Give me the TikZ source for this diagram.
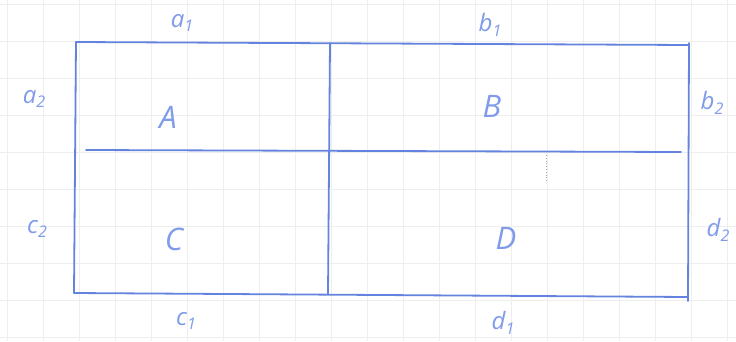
\documentclass[tikz,border=0pt]{standalone}
\usepackage{fontspec}
\setmainfont{Open Sans}
\definecolor{ink}{HTML}{6483DE}
\definecolor{inktext}{HTML}{7F9BEA}
\definecolor{gridc}{HTML}{EEEEEE}
\newcommand{\lab}[2]{#1\raisebox{-0.35ex}{\fontsize{16}{17}\selectfont #2}}
\tikzset{
  pen/.style={draw=ink, line width=1.8pt, line cap=round},
  lbl/.style={text=inktext, font=\fontsize{24}{26}\selectfont\itshape, inner sep=0pt},
  big/.style={text=inktext, font=\fontsize{31}{33}\selectfont\itshape, inner sep=0pt},
}
\begin{document}
\begin{tikzpicture}[x=1pt,y=-1pt]
\useasboundingbox (0,0) rectangle (736,341);
\fill[white] (0,0) rectangle (736,341);
% faint grid
\foreach \gx in {7,43,79,115,151,187,223,259,295,331,367,403,439,475,511,547,583,619,655,691,727}
  \draw[gridc, line width=0.8pt] (\gx,0) -- (\gx,341);
\foreach \gy in {4,41,78,115,152,189,226,263,300,337}
  \draw[gridc, line width=0.8pt] (0,\gy) -- (736,\gy);
% corners
\coordinate (tl) at (76,42);
\coordinate (tm) at (330,43);
\coordinate (tr) at (689,45);
\coordinate (bl) at (74,293);
\coordinate (bm) at (328,294);
\coordinate (br) at (688,297);
\coordinate (brr) at (688,301);
\coordinate (trr) at (689,43);
\coordinate (ml) at (86,150);
\coordinate (mr) at (681,152);
% outer rectangle
\draw[pen] (tl) -- (tr);
\draw[pen] (tl) -- (bl);
\draw[pen] (bl) -- (br);
\draw[pen] (trr) -- (brr);
% dividers
\draw[pen] (tm) -- (bm);
\draw[pen] (ml) -- (mr);
% small dotted mark
\coordinate (dt) at (546,155);
\coordinate (db) at (546,183);
\draw[gray!70, line width=0.8pt, dotted] (dt) -- (db);
% labels
\node[lbl] (a1) at (182,23) {\lab{a}{1}};
\node[lbl] (b1) at (490,25) {\lab{b}{1}};
\node[lbl] (a2) at (34,99) {\lab{a}{2}};
\node[lbl] (b2) at (712,103) {\lab{b}{2}};
\node[lbl] (c2) at (37,229) {\lab{c}{2}};
\node[lbl] (d2) at (718,230) {\lab{d}{2}};
\node[lbl] (c1) at (186,321) {\lab{c}{1}};
\node[lbl] (d1) at (503,323) {\lab{d}{1}};
\node[big] (A) at (168,117) {A};
\node[big] (B) at (492,106) {B};
\node[big] (C) at (174,239) {C};
\node[big] (D) at (506,238) {D};
\end{tikzpicture}
\end{document}
